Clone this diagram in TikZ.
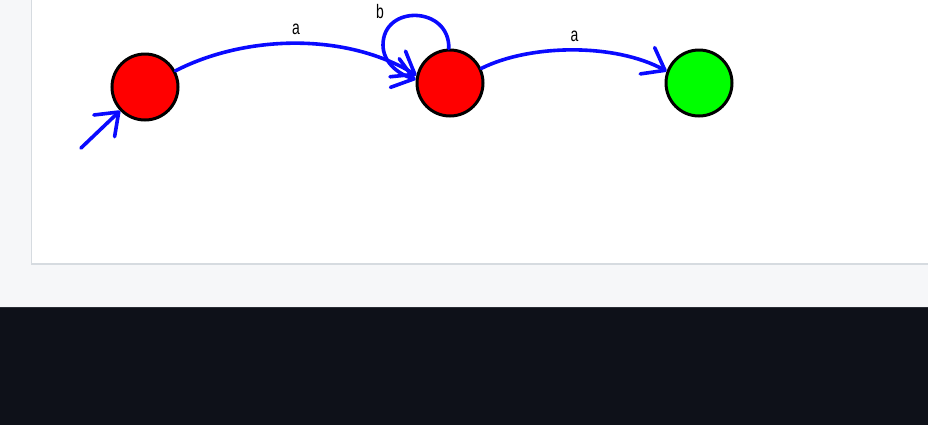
\documentclass[tikz,border=0pt]{standalone}
\usepackage{fontspec}
\setmainfont{Liberation Sans}
\usetikzlibrary{arrows.meta}
\definecolor{pagebg}{HTML}{F6F7F9}
\definecolor{panelborder}{HTML}{D6DBE0}
\definecolor{darkband}{HTML}{0E1119}
\definecolor{darkline}{HTML}{2A2E36}
\definecolor{edgeblue}{RGB}{10,10,255}
\definecolor{stred}{RGB}{255,0,0}
\definecolor{stgreen}{RGB}{0,255,0}
\tikzset{
  state/.style={circle,draw=black,line width=3bp,minimum size=66bp,inner sep=0pt},
  edge/.style={draw=edgeblue,line width=3.6bp,line cap=round,line join=round,
    -{Straight Barb[length=20bp,width=30bp,line cap=round,line join=round]}},
  lbl/.style={inner sep=0pt,font=\fontsize{14}{14}\selectfont}
}
\begin{document}
\begin{tikzpicture}[x=1bp,y=-1bp]
\useasboundingbox (0,0) rectangle (928,425);
\fill[pagebg] (0,0) rectangle (928,307);
\fill[darkband] (0,307) rectangle (928,425);
\draw[darkline,line width=1bp] (0,307.5) -- (928,307.5);
\filldraw[fill=white,draw=panelborder,line width=1.5bp] (31.5,-5) rectangle (935,264);
% states
\node[state,fill=stred] (q0) at (145,87) {};
\node[state,fill=stred] (q1) at (450,83) {};
\node[state,fill=stgreen] (q2) at (699,83) {};
% initial arrow
\coordinate (init) at (81,148);
\draw[edge] (init) -- (q0);
% transitions
\draw[edge] (q0.28) .. controls (245,35) and (345,32) .. (q1.167);
\draw[edge] (q1.25) .. controls (530,44) and (615,43) .. (q2.160);
\draw[edge] (q1.92) .. controls (450,6) and (383,4) .. (383,45) .. controls (383,62) and (398,74) .. (q1.174);
% labels
\node[lbl] (la) at (296,29) {\scalebox{1}[1.4]{a}};
\node[lbl] (lb) at (380,12) {\scalebox{1}[1.4]{b}};
\node[lbl] (lc) at (574.5,36) {\scalebox{1}[1.4]{a}};
\end{tikzpicture}
\end{document}
